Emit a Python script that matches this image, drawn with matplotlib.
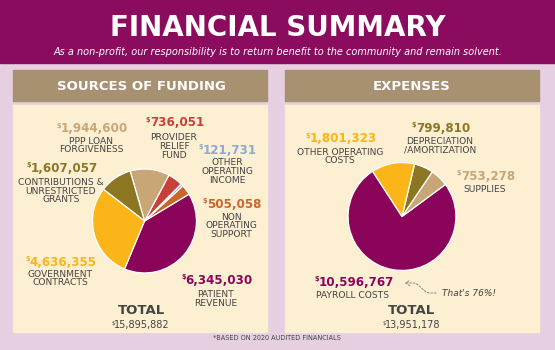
import matplotlib
matplotlib.use('Agg')
import matplotlib.pyplot as plt
from matplotlib.patches import Rectangle

plt.rcParams['font.family'] = ['DejaVu Sans']
plt.rcParams['text.parse_math'] = False

# sources of funding (counterclockwise from the purple slice)
fund_names = ['PATIENT\nREVENUE', 'NON\nOPERATING\nSUPPORT', 'OTHER\nOPERATING\nINCOME',
              'PROVIDER\nRELIEF\nFUND', 'PPP LOAN\nFORGIVENESS',
              'CONTRIBUTIONS &\nUNRESTRICTED\nGRANTS', 'GOVERNMENT\nCONTRACTS']
fund_values = [6345030, 505058, 121731, 736051, 1944600, 1607057, 4636355]
fund_colors = ['#8a055a', '#c8672b', '#8da9d4', '#c9403a', '#c8a676', '#8c7622', '#fbb518']
fund_total = 15895882

# expenses
exp_names = ['PAYROLL COSTS', 'SUPPLIES', 'DEPRECIATION\n/AMORTIZATION', 'OTHER OPERATING\nCOSTS']
exp_values = [10596767, 753278, 799810, 1801323]
exp_colors = ['#8a055a', '#c8a676', '#8c7622', '#fbb518']
exp_total = 13951178

# label spots: (x, y of amount, y of label block centre)
fund_pos = [(216, 280, 299), (231, 204, 226), (227, 150, 171.5), (174, 123, 146.5),
            (91, 129, 145.5), (61, 168, 191), (60, 262, 278.5)]
exp_pos = [(353, 282, 296), (485, 176, 189), (440, 128, 146), (340, 139, 156.5)]

W, H = 555, 350
PURPLE = '#8b0b5f'
BG = '#e5cfe0'
CREAM = '#fdefd2'
KRAFT = '#a89171'
GRAY = '#444444'

fig = plt.figure(figsize=(5.55, 3.5), dpi=100, facecolor=BG)
ax = fig.add_axes([0, 0, 1, 1])
ax.set_xlim(0, W)
ax.set_ylim(H, 0)
ax.axis('off')

# banner and panels
ax.add_patch(Rectangle((0, 0), W, 63, color=PURPLE, zorder=1))
for x0 in (13, 285):
	ax.add_patch(Rectangle((x0, 70), 254, 31, color=KRAFT, zorder=1))
	ax.add_patch(Rectangle((x0, 105), 254, 227, color=CREAM, zorder=1))

ax.text(W / 2, 28, 'FINANCIAL SUMMARY', color='white', fontsize=20, fontweight='bold',
	ha='center', va='center')
ax.text(W / 2, 52, 'As a non-profit, our responsibility is to return benefit to the community and remain solvent.',
	color='white', fontsize=7, style='italic', ha='center', va='center')
ax.text(141, 86, 'SOURCES OF FUNDING', color='white', fontsize=9.5, fontweight='bold', ha='center', va='center')
ax.text(412, 86, 'EXPENSES', color='white', fontsize=9.5, fontweight='bold', ha='center', va='center')
ax.text(277, 338, '*BASED ON 2020 AUDITED FINANCIALS', color=GRAY, fontsize=4.7, ha='center', va='center')

def money(x, y, value, color, size=8.6, weight='bold'):
	t = ax.text(x + 3, y, '{:,}'.format(value), color=color, fontsize=size, fontweight=weight,
		ha='center', va='center', zorder=3)
	ax.annotate('$', xy=(0.01, 0.95), xycoords=t, ha='right', va='top', color=color,
		fontsize=size * 0.55, fontweight=weight, zorder=3)
	return t

def labels(names, values, colors, pos):
	for n, v, c, p in zip(names, values, colors, pos):
		money(p[0], p[1], v, c)
		ax.text(p[0], p[2], n, color=GRAY, fontsize=6.6, ha='center', va='center',
			linespacing=0.95, zorder=3)

labels(fund_names, fund_values, fund_colors, fund_pos)
labels(exp_names, exp_values, exp_colors, exp_pos)

for cx, amount in ((141, fund_total), (412, exp_total)):
	ax.text(cx, 311, 'TOTAL', color=GRAY, fontsize=9.5, fontweight='bold', ha='center', va='center')
	money(cx - 2, 325, amount, GRAY, size=7, weight='normal')

# "That's 76%!" note with dashed arrow
ax.text(442, 293, "That's 76%!", color=GRAY, fontsize=6.5, style='italic', ha='left', va='center')
ax.annotate('', xy=(402, 283), xytext=(439, 293),
	arrowprops=dict(arrowstyle='->,head_length=0.3,head_width=0.2', color='#8a8a8a', lw=0.7,
		linestyle=(0, (2, 1.6)), connectionstyle='arc,angleA=180,angleB=0,armA=12,armB=14,rad=3'))

def pie(cx, cy, r, values, colors, start):
	pax = fig.add_axes([(cx - r) / W, (H - cy - r) / H, 2 * r / W, 2 * r / H])
	pax.pie(values, colors=colors, startangle=start, counterclock=True,
		wedgeprops=dict(edgecolor='white', linewidth=0.9))
	pax.set_xlim(-1.02, 1.02)
	pax.set_ylim(-1.02, 1.02)
	pax.axis('off')

pie(144.5, 221, 53, fund_values, fund_colors, 247.4)
pie(402, 216.5, 55, exp_values, exp_colors, 123)

plt.savefig('out.png', dpi=100, facecolor=BG)
